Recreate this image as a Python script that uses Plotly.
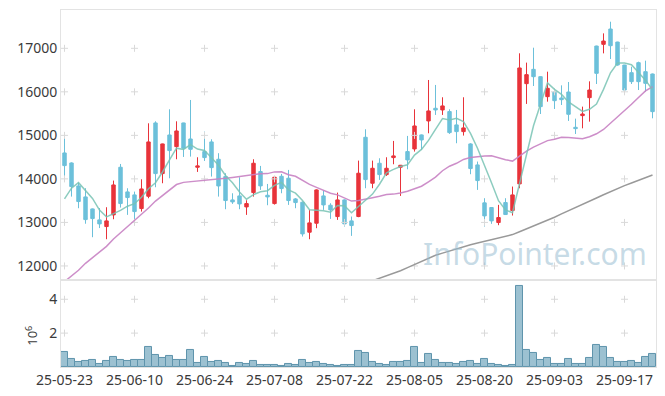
import plotly.graph_objects as go

dates = [
    "25-05-23", "25-05-26", "25-05-27", "25-05-28", "25-05-29", "25-05-30",
    "25-06-02", "25-06-04", "25-06-05", "25-06-09", "25-06-10", "25-06-11",
    "25-06-12", "25-06-13", "25-06-16", "25-06-17", "25-06-18", "25-06-19",
    "25-06-20", "25-06-23", "25-06-24", "25-06-25", "25-06-26", "25-06-27",
    "25-06-30", "25-07-01", "25-07-02", "25-07-03", "25-07-04", "25-07-07",
    "25-07-08", "25-07-09", "25-07-10", "25-07-11", "25-07-14", "25-07-15",
    "25-07-16", "25-07-17", "25-07-18", "25-07-21", "25-07-22", "25-07-23",
    "25-07-24", "25-07-25", "25-07-28", "25-07-29", "25-07-30", "25-07-31",
    "25-08-01", "25-08-04", "25-08-05", "25-08-06", "25-08-07", "25-08-08",
    "25-08-11", "25-08-12", "25-08-13", "25-08-14", "25-08-18", "25-08-19",
    "25-08-20", "25-08-21", "25-08-22", "25-08-25", "25-08-26", "25-08-27",
    "25-08-28", "25-08-29", "25-09-01", "25-09-02", "25-09-03", "25-09-04",
    "25-09-05", "25-09-08", "25-09-09", "25-09-10", "25-09-11", "25-09-12",
    "25-09-15", "25-09-16", "25-09-17", "25-09-18", "25-09-19", "25-09-22",
    "25-09-23",
]

opens = [
    14596, 14366, 13838, 13586, 13310, 13058, 12905, 13173, 14267, 13701,
    13632, 13318, 13601, 15285, 14122, 15009, 14741, 15285, 14917, 14267,
    14627, 14849, 14451, 14053, 13517, 13609, 13356, 13685, 14168, 13624,
    13433, 14060, 14015, 13540, 13464, 12775, 12981, 13609, 13395, 13134,
    13517, 13035, 13135, 14956, 13900, 14359, 14099, 14489, 14267, 14627,
    14688, 15010, 15331, 15622, 15584, 15546, 15240, 15086, 14803, 14321,
    13449, 13342, 12997, 13456, 13273, 13885, 16188, 16517, 16348, 15889,
    15996, 15859, 15996, 15185, 15453, 15866, 17052, 17091, 17443, 17144,
    16616, 16440, 16670, 16463, 16410,
]
highs = [
    14971, 14380, 13915, 13786, 13320, 13330, 13349, 13961, 14343, 13785,
    13708, 13991, 15277, 15323, 14810, 15599, 15323, 15290, 15813, 14497,
    15086, 14910, 14590, 14130, 13670, 14037, 13509, 14451, 14298, 13884,
    14060, 14114, 14206, 13560, 13480, 13288, 13760, 13731, 13441, 13685,
    13530, 13135, 14420, 15140, 14420, 14474, 14497, 14872, 14320, 14987,
    15599, 15020, 16272, 16158, 15875, 15599, 15584, 15875, 14820, 14398,
    13556, 13350, 13403, 13556, 13824, 16885, 16671, 17014, 16360, 16463,
    16073, 16149, 16226, 15384, 15660, 16241, 17060, 17343, 17611, 17150,
    16620, 16578, 16693, 16716, 16420,
]
lows = [
    14037, 13593, 13326, 12970, 12660, 12870, 12614, 13073, 13341, 13173,
    12966, 13249, 13555, 13808, 13900, 14014, 14451, 14504, 14512, 14160,
    14412, 14053, 13593, 13303, 13425, 13303, 13173, 13593, 13747, 13395,
    13410, 13670, 13402, 13326, 12675, 12614, 12867, 13288, 13081, 13058,
    12905, 12691, 13120, 13785, 13785, 13977, 14068, 14336, 13609, 14221,
    14627, 14665, 15048, 15469, 15469, 15033, 14819, 14995, 14107, 13747,
    12905, 12967, 12936, 13170, 13158, 13785, 15722, 16134, 15491, 15774,
    15606, 15698, 15331, 15032, 15162, 15315, 16180, 16884, 16754, 16600,
    16004, 16180, 16042, 16004, 15392,
]
closes = [
    14305, 13823, 13479, 13065, 13088, 12966, 13035, 13861, 13433, 13571,
    13249, 13769, 14849, 14122, 14803, 14650, 15101, 14703, 14680, 14298,
    14489, 14259, 13838, 13502, 13471, 13425, 13433, 14359, 13839, 13586,
    14038, 13777, 13502, 13456, 12736, 12989, 13747, 13402, 13288, 13517,
    12966, 12928, 14130, 13984, 14244, 14099, 14244, 14528, 14313, 14436,
    15216, 14895, 15561, 15584, 15676, 15063, 15086, 15171, 14237, 13961,
    13150, 13035, 13112, 13181, 13632, 16548, 16395, 16348, 15660, 16081,
    15797, 15820, 15484, 15155, 15491, 16042, 16425, 17167, 17060, 16616,
    16042, 16234, 16234, 16195, 15545,
]
# volume in millions of shares
volumes_m = [
    0.90, 0.47, 0.31, 0.37, 0.43, 0.20, 0.37, 0.59, 0.43, 0.37,
    0.43, 0.43, 1.18, 0.71, 0.55, 0.67, 0.43, 0.43, 1.02, 0.25,
    0.59, 0.31, 0.37, 0.25, 0.08, 0.25, 0.20, 0.37, 0.12, 0.12,
    0.12, 0.08, 0.20, 0.14, 0.43, 0.25, 0.31, 0.20, 0.14, 0.08,
    0.14, 0.14, 0.96, 0.84, 0.31, 0.20, 0.14, 0.31, 0.31, 0.37,
    1.20, 0.25, 0.78, 0.43, 0.25, 0.25, 0.20, 0.31, 0.37, 0.20,
    0.49, 0.20, 0.14, 0.08, 0.14, 4.78, 1.02, 0.84, 0.43, 0.55,
    0.20, 0.20, 0.49, 0.20, 0.20, 0.55, 1.31, 1.20, 0.55, 0.31,
    0.31, 0.37, 0.25, 0.61, 0.78,
]

# moving-average values read from the chart where the earlier history is not shown
ma5_head = [13540, 13786, 13914, 13730]
ma20_head = [11640, 11760, 11900, 12060, 12190, 12320, 12450, 12620, 12760, 12900,
             13040, 13170, 13330, 13490, 13620, 13740, 13870, 13920, 13935]
# long-term average (gray line), starting at index 44
ma_long_start = 44
ma_long = [11660, 11715, 11775, 11835, 11890, 11960, 12030, 12105, 12175, 12245,
           12295, 12345, 12395, 12440, 12485, 12525, 12565, 12605, 12645, 12680,
           12720, 12785, 12850, 12915, 12980, 13050, 13120, 13195, 13265, 13335,
           13410, 13485, 13560, 13635, 13710, 13780, 13845, 13905, 13965, 14030,
           14090]

price_ticks = [12000, 13000, 14000, 15000, 16000, 17000]
vol_ticks = [2, 4]
tick_dates = dates[::10]


def moving_avg(vals, n, head):
    out = [None] * len(vals)
    for k, v in enumerate(head):
        out[k] = v
    for i in range(n - 1, len(vals)):
        out[i] = sum(vals[i - n + 1:i + 1]) / n
    return out


ma5 = moving_avg(closes, 5, ma5_head)
ma20 = moving_avg(closes, 20, ma20_head)

fig = go.Figure()

# grid crosses at tick intersections
cross = dict(symbol="cross-thin", size=5, line=dict(width=1, color="#d9d9d9"))
cx = [d for d in tick_dates for _ in price_ticks]
cy = [p for _ in tick_dates for p in price_ticks]
fig.add_trace(go.Scatter(x=cx, y=cy, mode="markers", xaxis="x", yaxis="y",
                         marker=cross, hoverinfo="skip", showlegend=False))
vx = [d for d in tick_dates for _ in vol_ticks]
vy = [p for _ in tick_dates for p in vol_ticks]
fig.add_trace(go.Scatter(x=vx, y=vy, mode="markers", xaxis="x2", yaxis="y2",
                         marker=cross, hoverinfo="skip", showlegend=False))

fig.add_trace(go.Candlestick(
    x=dates, open=opens, high=highs, low=lows, close=closes,
    xaxis="x", yaxis="y",
    increasing=dict(line=dict(color="#e8333a", width=1), fillcolor="#e8333a"),
    decreasing=dict(line=dict(color="#6cc0da", width=1), fillcolor="#6cc0da"),
    showlegend=False, name="price"))

fig.add_trace(go.Scatter(x=dates[ma_long_start:], y=ma_long, mode="lines",
                         xaxis="x", yaxis="y",
                         line=dict(color="#999999", width=1.5), showlegend=False, name="MA long"))
fig.add_trace(go.Scatter(x=dates, y=ma20, mode="lines", xaxis="x", yaxis="y",
                         line=dict(color="rgba(200,130,195,0.9)", width=1.5),
                         showlegend=False, name="MA20"))
fig.add_trace(go.Scatter(x=dates, y=ma5, mode="lines", xaxis="x", yaxis="y",
                         line=dict(color="rgba(120,195,180,0.85)", width=1.5),
                         showlegend=False, name="MA5"))

fig.add_trace(go.Bar(x=dates, y=volumes_m, xaxis="x2", yaxis="y2",
                     marker=dict(color="#9cc1d1", line=dict(color="#5f94ac", width=1)),
                     showlegend=False, name="volume"))

axis_line = dict(showline=True, mirror=True, linecolor="#e3e3e3", linewidth=1,
                 showgrid=False, zeroline=False, ticks="", automargin=False)
font = dict(family="Noto Sans", size=13, color="#3a3a3a")

fig.update_layout(
    width=665, height=396,
    margin=dict(l=61, r=9, t=10, b=29),
    plot_bgcolor="white", paper_bgcolor="white",
    font=font,
    bargap=0,
    xaxis=dict(domain=[0, 1], anchor="y", type="category", categoryorder="array",
               categoryarray=dates, range=[-0.5, len(dates) - 0.5],
               showticklabels=False, rangeslider=dict(visible=False), **axis_line),
    yaxis=dict(domain=[0.2465, 1], anchor="x", range=[11700, 17880],
               tickvals=price_ticks, ticktext=[str(p) for p in price_ticks],
               tickfont=dict(size=14), **axis_line),
    xaxis2=dict(domain=[0, 1], anchor="y2", type="category", matches="x",
                categoryorder="array", categoryarray=dates,
                tickvals=tick_dates, ticktext=tick_dates, tickangle=0,
                tickfont=dict(size=14), **axis_line),
    yaxis2=dict(domain=[0, 0.241], anchor="x2", range=[0, 5.08],
                tickvals=vol_ticks, ticktext=[str(v) for v in vol_ticks],
                tickfont=dict(size=14), **axis_line),
    annotations=[
        dict(text="InfoPointer.com", xref="paper", yref="paper",
             x=0.988, y=0.318, xanchor="right", yanchor="middle",
             showarrow=False,
             font=dict(family="Noto Sans", size=30, color="rgba(150,188,208,0.55)")),
        dict(text="10<sup>6</sup>", xref="paper", yref="paper",
             x=-0.049, y=0.087, xanchor="center", yanchor="middle",
             textangle=-90, showarrow=False, font=dict(size=13, color="#3a3a3a")),
    ],
)

fig.write_html("out.html", config={"displayModeBar": False},
               post_script="document.body.style.margin='0px';")
